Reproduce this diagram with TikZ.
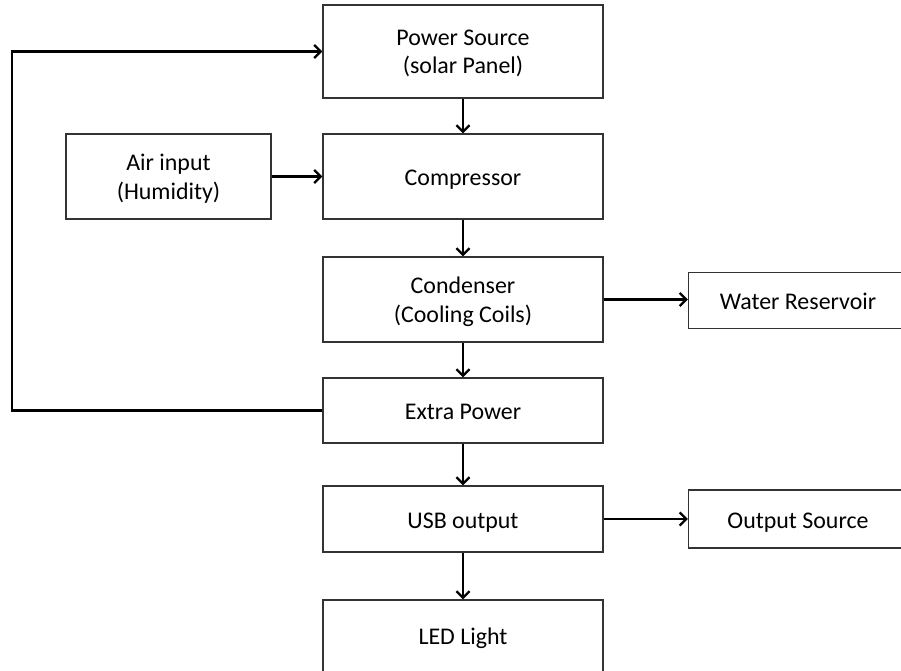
\documentclass[tikz,border=0pt]{standalone}
\usepackage{fontspec}
\setmainfont{Carlito}
\usetikzlibrary{arrows.meta}
\newcommand{\twoline}[2]{\begin{tabular}[b]{@{}c@{}}#1\\#2\end{tabular}}
\begin{document}
\begin{tikzpicture}[x=1bp,y=-1bp,
  blk/.style={draw=black!80, line width=1.3bp, fill=white, rectangle, inner sep=0pt,
    font=\fontsize{24}{29}\selectfont, text=black, text height=19bp, text depth=1bp},
  blk2/.style={blk, text height=47bp, text depth=2bp},
  conn/.style={line width=2.3bp, -{Straight Barb[length=6.5bp,width=13bp,line width=2.3bp]}}]
\useasboundingbox (0,0) rectangle (901,671);
\clip (0,0) rectangle (901,671);
\fill[white] (0,0) rectangle (901,671);
\node[blk2, minimum width=280bp, minimum height=93bp] (ps) at (463,51.5) {\twoline{Power Source}{(solar Panel)}};
\node[blk2, minimum width=205bp, minimum height=85bp] (air) at (168.5,176.5) {\twoline{Air input}{(Humidity)}};
\node[blk, minimum width=280bp, minimum height=85bp] (comp) at (463,176.5) {Compressor};
\node[blk2, minimum width=280bp, minimum height=85bp] (cond) at (463,299.5) {\twoline{Condenser}{(Cooling Coils)}};
\node[blk, minimum width=219bp, minimum height=55.5bp] (water) at (798,300.5) {Water Reservoir};
\node[blk, minimum width=280bp, minimum height=65bp] (extra) at (463,410.5) {Extra Power};
\node[blk, minimum width=280bp, minimum height=66bp] (usb) at (463,519) {USB output};
\node[blk, minimum width=219bp, minimum height=58bp] (outs) at (798,519) {Output Source};
\node[blk, text height=12bp, text depth=4bp, minimum width=280bp, minimum height=80bp] (led) at (463,640) {LED Light};
\coordinate (lb) at (12,410.5);
\coordinate (lt) at (12,51.5);
\draw[conn] (ps.south) -- (comp.north);
\draw[conn] (air.east) -- (comp.west);
\draw[conn] (comp.south) -- (cond.north);
\draw[conn] (cond.east) -- (cond.east -| water.west);
\draw[conn] (cond.south) -- (extra.north);
\draw[conn] (extra.south) -- (usb.north);
\draw[conn] (usb.east) -- (usb.east -| outs.west);
\draw[conn] (usb.south) -- (led.north);
\draw[conn] (extra.west) -- (lb) -- (lt) -- (ps.west);
\end{tikzpicture}
\end{document}
